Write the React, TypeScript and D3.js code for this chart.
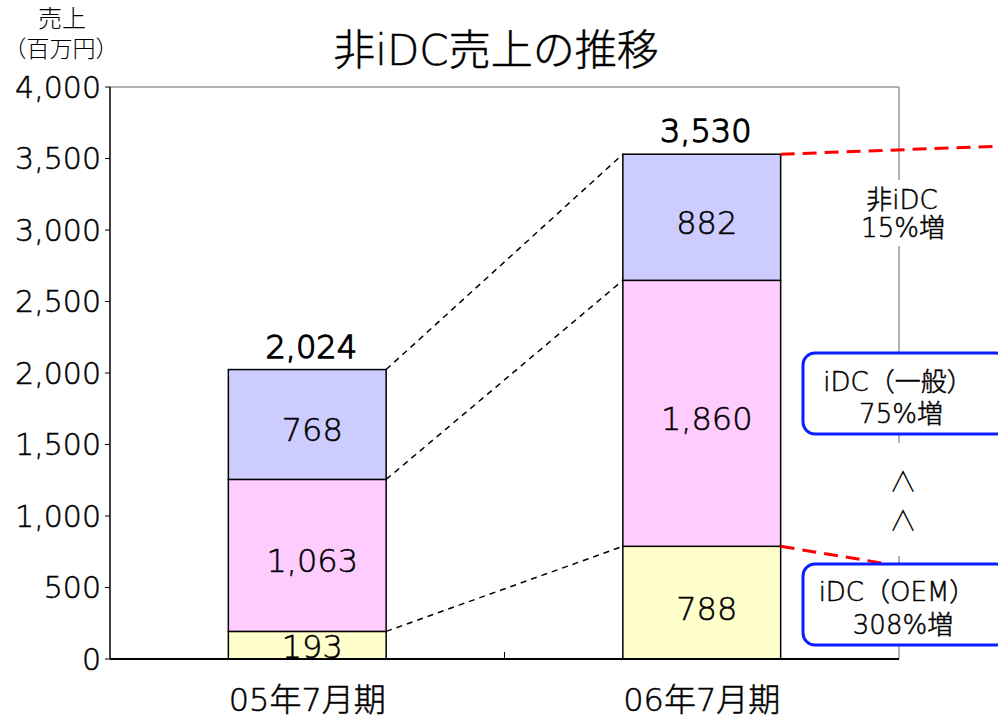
import React from "react";
import * as d3 from "d3";

const categories = ["05年7月期", "06年7月期"];
const seriesNames = ["iDC（OEM）", "iDC（一般）", "非iDC"];
const oemValues = [193, 788];
const generalValues = [1063, 1860];
const nonIdcValues = [768, 882];
const totals = [2024, 3530];
const yTicks = [0, 500, 1000, 1500, 2000, 2500, 3000, 3500, 4000];
const seriesColors = ["#FFFFCC", "#FFCCFF", "#CCCCFF"];

const FONT = "'DejaVu Sans', 'Noto Sans CJK JP', sans-serif";

export default function App() {
  const W = 998, H = 720;
  const left = 110, right = 899, top = 87, bottom = 659;
  const x = d3.scaleBand<string>().domain(categories).range([left, right]).paddingInner(0.6).paddingOuter(0.3);
  const y = d3.scaleLinear().domain([0, 4000]).range([bottom, top]);
  const fmt = d3.format(",");

  const rows = categories.map((c, i) => ({ cat: c, OEM: oemValues[i], GEN: generalValues[i], NON: nonIdcValues[i] }));
  const stack = d3.stack<any>().keys(["OEM", "GEN", "NON"])(rows);

  const bw = x.bandwidth();
  const x0 = x(categories[0])!;
  const x1 = x(categories[1])!;
  const thin = { stroke: "#000", strokeWidth: 0.5 };

  return (
    <svg width={W} height={H} style={{ display: "block", position: "absolute", left: 0, top: 0, background: "#fff" }} fontFamily={FONT} fontWeight={300}>
      <rect x={0} y={0} width={W} height={H} fill="#fff" />
      {/* title */}
      <text x={496} y={65} textAnchor="middle" fontSize={42} fill="#000" {...thin}>非iDC売上の推移</text>
      {/* y axis title */}
      <text x={62} y={27} textAnchor="middle" fontSize={24}>売上</text>
      <text x={61} y={57} textAnchor="middle" fontSize={23}>（百万円）</text>

      {/* plot frame */}
      <line x1={left} x2={right} y1={top} y2={top} stroke="#999" strokeWidth={1.5} />
      <line x1={right} x2={right} y1={top} y2={bottom} stroke="#999" strokeWidth={1.5} />

      {/* bars */}
      {stack.map((s, si) =>
        s.map((d, i) => (
          <rect key={si + "-" + i} x={x(categories[i])!} y={y(d[1])} width={bw} height={y(d[0]) - y(d[1])}
            fill={seriesColors[si]} stroke="#000" strokeWidth={1.5} />
        ))
      )}

      {/* axes */}
      <line x1={left} x2={left} y1={top} y2={bottom} stroke="#000" strokeWidth={1.5} />
      <line x1={left} x2={right} y1={bottom} y2={bottom} stroke="#000" strokeWidth={2} />
      <line x1={(x0 + bw + x1) / 2} x2={(x0 + bw + x1) / 2} y1={bottom - 7} y2={bottom} stroke="#000" strokeWidth={1} />
      {yTicks.map((t) => (
        <g key={t}>
          <line x1={left - 5} x2={left} y1={y(t)} y2={y(t)} stroke="#000" strokeWidth={1} />
          <text x={101} y={y(t)} dy="0.36em" textAnchor="end" fontSize={30} {...thin}>{fmt(t)}</text>
        </g>
      ))}
      {categories.map((c) => (
        <text key={c} x={x(c)! + bw / 2} y={711} textAnchor="middle" fontSize={32} {...thin}>{c}</text>
      ))}

      {/* connector dashed lines */}
      {stack.map((s, si) => (
        <line key={"c" + si} x1={x0 + bw} y1={y(s[0][1])} x2={x1} y2={y(s[1][1])}
          stroke="#000" strokeWidth={1.5} strokeDasharray="6,5" />
      ))}

      {/* segment labels */}
      {stack.map((s, si) =>
        s.map((d, i) => {
          const h = y(d[0]) - y(d[1]);
          const off = Math.max(0, Math.min(6, (h - 24) / 2));
          return (
            <text key={"l" + si + i} x={x(categories[i])! + bw / 2 + 5} y={(y(d[0]) + y(d[1])) / 2 + off}
              dominantBaseline="central" textAnchor="middle" fontSize={32} {...thin}>{fmt(d[1] - d[0])}</text>
          );
        })
      )}
      {totals.map((t, i) => (
        <text key={"t" + i} x={x(categories[i])! + bw / 2 + 4} y={y(t) - 12} textAnchor="middle" fontSize={32} stroke="#000" strokeWidth={1.3}>{fmt(t)}</text>
      ))}

      {/* red dashed lines */}
      <line x1={x1 + bw} y1={y(totals[1])} x2={998} y2={y(totals[1]) - 8} stroke="#ff0000" strokeWidth={3} strokeDasharray="14,8" />
      <line x1={x1 + bw} y1={y(oemValues[1])} x2={900} y2={566} stroke="#ff0000" strokeWidth={3} strokeDasharray="14,8" />

      {/* right annotations */}
      <rect x={858} y={180} width={90} height={66} fill="#fff" />
      <text x={902} y={209} textAnchor="middle" fontSize={26} {...thin}>非iDC</text>
      <text x={903} y={237} textAnchor="middle" fontSize={26} {...thin}>15%増</text>

      <rect x={803} y={353} width={205} height={81} rx={12} fill="#fff" stroke="#0a1eff" strokeWidth={3} />
      <text x={898} y={391} textAnchor="middle" fontSize={26} {...thin}>iDC（一般）</text>
      <text x={901} y={423} textAnchor="middle" fontSize={26} {...thin}>75%増</text>

      <rect x={880} y={443} width={45} height={113} fill="#fff" />
      <text x={903} y={492} textAnchor="middle" fontSize={28} fontFamily="'Noto Sans CJK JP', sans-serif">∧</text>
      <text x={903} y={531} textAnchor="middle" fontSize={28} fontFamily="'Noto Sans CJK JP', sans-serif">∧</text>

      <rect x={803} y={564} width={205} height={81} rx={12} fill="#fff" stroke="#0a1eff" strokeWidth={3} />
      <text x={897} y={601} textAnchor="middle" fontSize={26} {...thin}>iDC（OEM）</text>
      <text x={903} y={634} textAnchor="middle" fontSize={26} {...thin}>308%増</text>
    </svg>
  );
}
